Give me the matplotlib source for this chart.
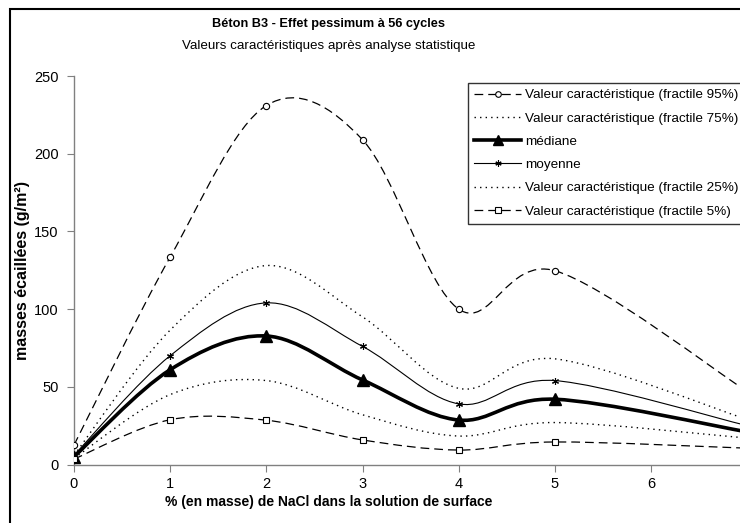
import matplotlib
matplotlib.use("Agg")
import matplotlib.pyplot as plt
import numpy as np
from matplotlib.path import Path
from matplotlib.patches import PathPatch, Rectangle
from matplotlib.lines import Line2D

plt.rcParams['font.family'] = ['Liberation Sans', 'DejaVu Sans']

# ---- data ----
nacl = [0, 1, 2, 3, 4, 5, 7]
fractile95 = [12.5, 133.5, 231, 209, 100, 124.7, 47]
fractile75 = [6, 86.5, 128, 95, 49, 68, 29]
mediane = [5, 61, 82.7, 54.4, 28.6, 42, 21]
moyenne = [6, 70, 104, 76, 39, 54, 25]
fractile25 = [4, 45, 54, 32, 18.3, 27, 17]
fractile5 = [3.5, 28.8, 28.5, 15.8, 9.3, 14.5, 10.5]
marker_count = 6  # markers shown on measured points 0..5

labels = ['Valeur caractéristique (fractile 95%)',
          'Valeur caractéristique (fractile 75%)',
          'médiane',
          'moyenne',
          'Valeur caractéristique (fractile 25%)',
          'Valeur caractéristique (fractile 5%)']
xticks = [0, 1, 2, 3, 4, 5, 6]
yticks = [0, 50, 100, 150, 200, 250]

W, H = 740, 523
fig = plt.figure(figsize=(W / 100, H / 100), dpi=100)
ax = fig.add_axes([74 / W, 1 - 464.5 / H, (W - 74) / W, (464.5 - 76) / H])
ax.set_xlim(0, (W - 74) / 96.17)
ax.set_ylim(0, 250)


def smooth_path(xs, ys):
    pts = np.column_stack([xs, ys]).astype(float)
    n = len(pts)
    verts = [pts[0]]
    codes = [Path.MOVETO]
    for i in range(n - 1):
        p0 = pts[i - 1] if i > 0 else pts[i]
        p1 = pts[i]
        p2 = pts[i + 1]
        p3 = pts[i + 2] if i + 2 < n else pts[i + 1]
        c1 = p1 + (p2 - p0) / 6.0
        c2 = p2 - (p3 - p1) / 6.0
        verts += [c1, c2, p2]
        codes += [Path.CURVE4] * 3
    return Path(verts, codes)


series = [
    (fractile95, dict(lw=0.9, ls=(0, (7, 4))), dict(marker='o', ms=4.5, mfc='white', mec='black', mew=0.8)),
    (fractile75, dict(lw=1.0, ls=(0, (1, 3))), None),
    (mediane, dict(lw=2.6, ls='-'), dict(marker='^', ms=8.5, mfc='black', mec='black')),
    (moyenne, dict(lw=0.8, ls='-'), dict(marker=(6, 2, 0), ms=5, mfc='black', mec='black', mew=0.8)),
    (fractile25, dict(lw=1.0, ls=(0, (1, 3))), None),
    (fractile5, dict(lw=0.9, ls=(0, (7, 4))), dict(marker='s', ms=4.5, mfc='white', mec='black', mew=0.8)),
]

handles = []
for (vals, lsty, msty), lab in zip(series, labels):
    patch = PathPatch(smooth_path(nacl, vals), fill=False, edgecolor='black',
                      linewidth=lsty['lw'], linestyle=lsty['ls'], capstyle='butt',
                      clip_on=True, zorder=2)
    ax.add_patch(patch)
    if msty is not None:
        ax.plot(nacl[:marker_count], vals[:marker_count], ls='none', zorder=3, **msty)
        h = Line2D([], [], color='black', lw=lsty['lw'], ls=lsty['ls'], **msty)
    else:
        h = Line2D([], [], color='black', lw=lsty['lw'], ls=lsty['ls'])
    handles.append(h)

ax.set_xticks(xticks)
ax.set_yticks(yticks)
ax.tick_params(direction='out', length=5, width=0.8, colors='#808080',
               labelcolor='black', labelsize=10.5)
ax.tick_params(axis='x', pad=4)
ax.tick_params(axis='y', pad=6)
for s in ['top', 'right']:
    ax.spines[s].set_visible(False)
for s in ['left', 'bottom']:
    ax.spines[s].set_color('#808080')
    ax.spines[s].set_linewidth(1.0)

leg = fig.legend(handles, labels, loc='upper left',
                 bbox_to_anchor=(468 / W, 1 - 83 / H), borderaxespad=0,
                 fontsize=9.7, frameon=True, fancybox=False, edgecolor='black',
                 handlelength=3.5, handletextpad=0.3, labelspacing=0.8,
                 borderpad=0.45, markerscale=0.9)
leg.get_frame().set_linewidth(1.0)

fig.text(329 / W, 1 - 24 / H, 'Béton B3 - Effet pessimum à 56 cycles',
         ha='center', va='center', fontsize=9.2, fontweight='bold')
fig.text(329 / W, 1 - 46 / H, 'Valeurs caractéristiques après analyse statistique',
         ha='center', va='center', fontsize=9.6)
fig.text(329 / W, 1 - 502 / H, '% (en masse) de NaCl dans la solution de surface',
         ha='center', va='center', fontsize=10, fontweight='bold')
fig.text(23 / W, 1 - 270 / H, 'masses écaillées (g/m²)', rotation=90,
         ha='center', va='center', fontsize=11.5, fontweight='bold')

# outer chart border (left & top visible)
fig.add_artist(Rectangle((10 / W, -0.1), 1.2, (H - 9) / H + 0.1, transform=fig.transFigure,
                         fill=False, edgecolor='black', linewidth=1.5))

fig.savefig('out.png', dpi=100)
